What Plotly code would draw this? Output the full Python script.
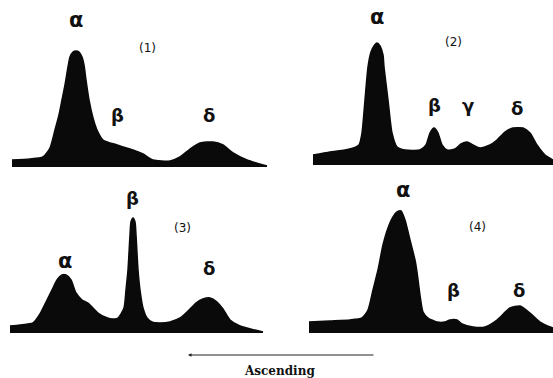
import plotly.graph_objects as go

# ---- traced densitometer profiles (distance along strip, height above base) ----
p1_x = [0,18,31,38,43,47,50,53,56,58,61,64,67,70,72,74,77,81,85,91,105,121,131,141,158,168,178,188,201,211,221,235,255]
p1_h = [7,8,10,19,37,52,67,82,100,110,115,116,115,110,102,87,67,49,37,27,22,17,13,7,6,10,18,24,25,22,14,7,1]

p2_x = [0,17,32,43,46,49,52,55,58,61,64,67,70,71,75,79,84,92,107,113,117,121,125,129,134,142,148,154,160,167,177,184,192,200,210,217,224,232,240]
p2_h = [10,13,15,18,20,32,65,98,113,119,122,119,110,98,65,32,18,15,15,20,32,37,32,20,15,16,21,23,20,17,20,25,33,37,37,32,20,10,5]

p3_x = [0,10,23,30,37,42,47,52,56,61,66,72,78,83,88,95,102,108,114,116,118,120,121,123,125,126,128,130,133,137,142,150,160,170,178,186,193,200,207,213,220,230,245,253]
p3_h = [7,8,10,19,33,43,53,58,58,53,40,33,30,25,20,16,14,15,25,43,63,98,111,115,111,98,63,43,25,15,11,10,11,15,22,30,34,35,31,24,13,7,3,1]

p4_x = [0,21,41,53,59,64,69,74,79,84,88,92,96,101,106,108,111,114,119,128,136,141,148,153,164,176,188,201,211,221,231,241,244]
p4_h = [11,12,13,15,23,43,63,88,105,116,121,122,113,93,73,61,38,21,15,11,11,13,13,9,6,6,13,25,27,20,11,6,5]

# ---- labels: (text, x, y) in each panel's data units ----
p1_labels = [("α", 64, 147), ("(1)", 135, 119), ("β", 105, 52), ("δ", 197, 52)]
p2_labels = [("α", 64, 148), ("(2)", 140, 123), ("β", 121, 60), ("γ", 155, 60), ("δ", 204, 57)]
p3_labels = [("β", 122, 135), ("(3)", 172, 105), ("α", 55, 72), ("δ", 199, 65)]
p4_labels = [("α", 94, 143), ("(4)", 168, 106), ("β", 144, 43), ("δ", 210, 43)]

arrow_label = "Ascending"

W, H = 553, 378
# panel frames: (x domain, y domain, x range, y range)
panels = [
    ((0, 276 / W), (1 - 175 / H, 1), (-12, 264), (-8, 167)),
    ((276 / W, 1), (1 - 175 / H, 1), (-37, 240), (-10, 165)),
    ((0, 276 / W), (0, 1 - 175 / H), (-10, 266), (-45, 158)),
    ((276 / W, 1), (0, 1 - 175 / H), (-33, 244), (-45, 158)),
]
data = [(p1_x, p1_h, p1_labels), (p2_x, p2_h, p2_labels),
        (p3_x, p3_h, p3_labels), (p4_x, p4_h, p4_labels)]

fig = go.Figure()
annotations = []
for i, ((xd, yd, xr, yr), (xs, hs, labs)) in enumerate(zip(panels, data), start=1):
    sfx = "" if i == 1 else str(i)
    fig.add_trace(go.Scatter(
        x=xs, y=hs, mode="lines", fill="tozeroy",
        line=dict(color="#0a0a0a", width=1.5, shape="spline", smoothing=0.6),
        fillcolor="#0a0a0a", xaxis="x" + sfx, yaxis="y" + sfx, hoverinfo="skip",
    ))
    fig.update_layout(**{
        "xaxis" + sfx: dict(domain=list(xd), range=list(xr), visible=False, fixedrange=True,
                             anchor="y" + sfx),
        "yaxis" + sfx: dict(domain=list(yd), range=list(yr), visible=False, fixedrange=True,
                             anchor="x" + sfx),
    })
    for txt, lx, ly in labs:
        if txt.startswith("("):
            t, size = txt, 12
        else:
            t, size = "<b>" + txt + "</b>", (21 if txt == "α" else 18)
        annotations.append(dict(
            text=t, x=lx, y=ly, xref="x" + sfx, yref="y" + sfx, showarrow=False,
            xanchor="center", yanchor="middle",
            font=dict(family="DejaVu Sans", size=size, color="#111111"),
        ))

# direction arrow and caption
annotations.append(dict(
    x=188 / W, y=1 - 355 / H, xref="paper", yref="paper",
    ax=187, ay=0, axref="pixel", ayref="pixel", showarrow=True,
    arrowhead=2, arrowsize=0.7, arrowwidth=1, arrowcolor="#222222", text="",
))
annotations.append(dict(
    text="<b>" + arrow_label + "</b>", x=279 / W, y=1 - 371 / H, xref="paper", yref="paper",
    xanchor="center", yanchor="middle", showarrow=False,
    font=dict(family="DejaVu Serif", size=12, color="#111111"),
))

fig.update_layout(
    width=W, height=H, margin=dict(l=0, r=0, t=0, b=0),
    paper_bgcolor="white", plot_bgcolor="white", showlegend=False,
    annotations=annotations,
)
fig.write_html("out.html", config={"displayModeBar": False},
               post_script="document.body.style.margin='0';")
